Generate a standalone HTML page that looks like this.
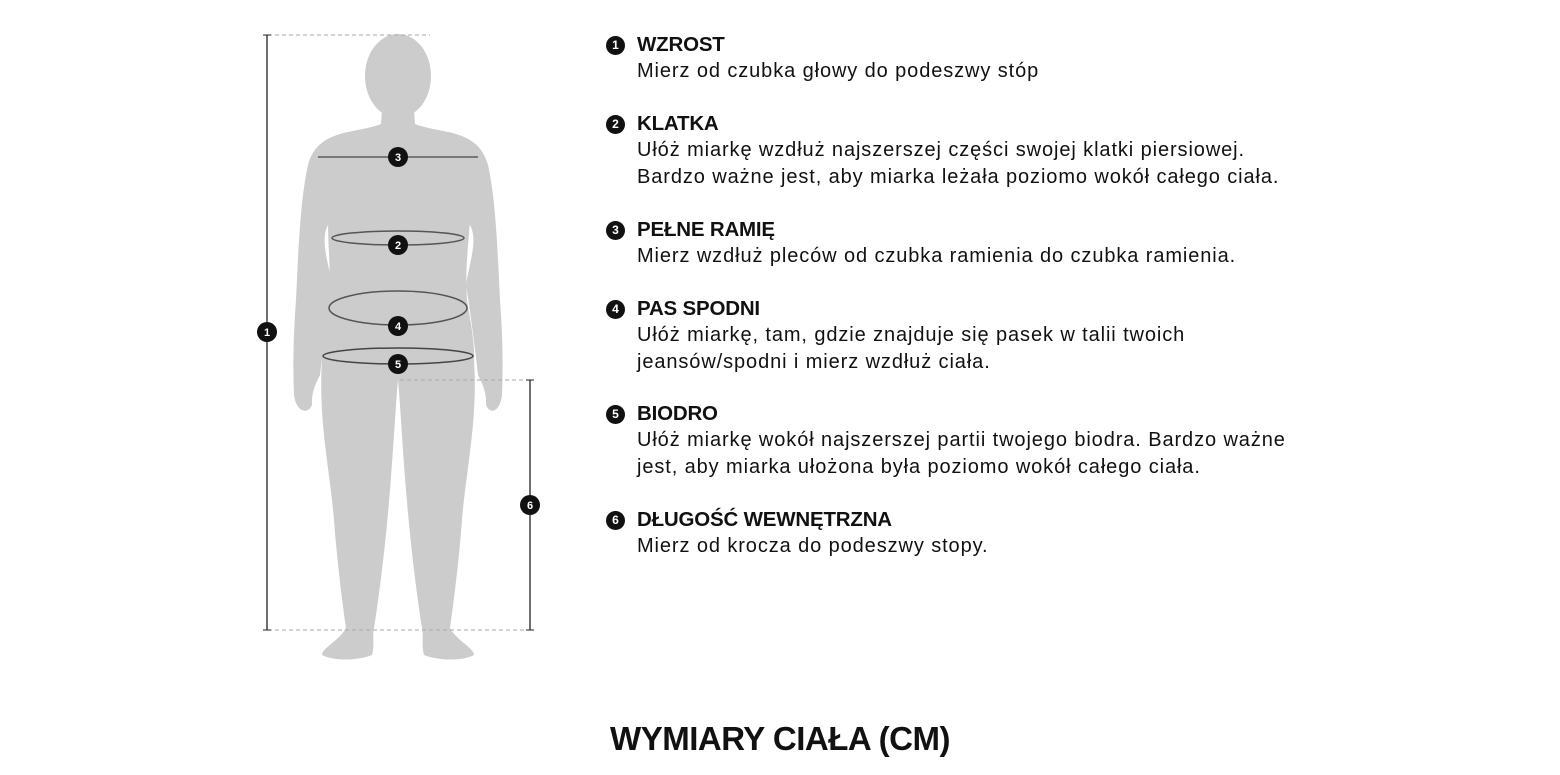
<!DOCTYPE html>
<html><head><meta charset="utf-8"><style>
body{margin:0;width:1560px;height:775px;background:#fff;position:relative;overflow:hidden;font-family:"Liberation Sans",sans-serif;color:#111}
.it{position:absolute;left:606px}
.n{position:absolute;left:0;top:3px;width:19px;height:19px;border-radius:50%;background:#111;color:#fff;font-size:12px;font-weight:bold;text-align:center;line-height:19px}
.h{position:absolute;left:31px;top:0;font-weight:bold;font-size:20.5px;white-space:nowrap;letter-spacing:-0.2px}
.t{position:absolute;left:31px;top:25px;font-size:20px;letter-spacing:0.9px;line-height:26.5px;white-space:nowrap}
.title{position:absolute;left:0;width:1560px;top:720px;text-align:center;font-weight:bold;font-size:33px;letter-spacing:-0.5px}
</style></head><body>
<svg width="1560" height="775" style="position:absolute;left:0;top:0">
<g fill="#cccccc">
<ellipse cx="398" cy="76" rx="33" ry="42"/>
<path d="M382 110 L414 110 L415 124 C440 134 478 128 488 165 C496 200 498 260 500 300 C503 340 503 370 502 395 C500 412 490 415 486 405 C487 390 480 380 478 375 C474 340 470 310 466 285 C470 260 478 240 470 225 L328 225 C320 240 328 260 332 285 C328 310 324 340 320 375 C318 380 311 390 312 405 C308 415 296 412 294 395 C293 370 293 340 296 300 C298 260 300 200 308 165 C318 128 356 134 381 124 Z"/>
<path d="M328 220 L470 220 C468 250 465 270 467 300 C472 330 475 345 474 365 L322 365 C321 345 324 330 329 300 C331 270 328 250 328 220 Z"/>
<path d="M322 360 C318 420 330 470 334 520 C337 560 342 600 346 628 C340 640 322 648 322 655 C336 662 360 660 372 655 C375 645 372 635 374 628 C380 590 386 540 390 490 C394 440 396 400 398 380 C400 400 402 440 406 490 C410 540 416 590 422 628 C424 635 421 645 424 655 C436 660 460 662 474 655 C474 648 456 640 450 628 C454 600 459 560 462 520 C466 470 478 420 474 360 Z"/>
</g>
<g fill="none">
<line x1="318" y1="157" x2="478" y2="157" stroke="#777" stroke-width="2"/>
<ellipse cx="398" cy="238" rx="66" ry="7" stroke="#555" stroke-width="1.5"/>
<ellipse cx="398" cy="308" rx="69" ry="17" stroke="#555" stroke-width="1.5"/>
<ellipse cx="398" cy="356" rx="75" ry="8" stroke="#444" stroke-width="1.5"/>
<line x1="268" y1="35" x2="430" y2="35" stroke="#aaa" stroke-dasharray="4 3"/>
<line x1="268" y1="630" x2="530" y2="630" stroke="#aaa" stroke-dasharray="4 3"/>
<line x1="400" y1="380" x2="530" y2="380" stroke="#aaa" stroke-dasharray="4 3"/>
<line x1="267" y1="35" x2="267" y2="630" stroke="#222" stroke-width="1.3"/>
<line x1="263" y1="35" x2="271" y2="35" stroke="#222"/><line x1="263" y1="630" x2="271" y2="630" stroke="#222"/>
<line x1="530" y1="380" x2="530" y2="630" stroke="#222" stroke-width="1.3"/>
<line x1="526" y1="380" x2="534" y2="380" stroke="#222"/><line x1="526" y1="630" x2="534" y2="630" stroke="#222"/>
</g>
<g font-family="Liberation Sans" font-weight="bold" font-size="11" fill="#fff" text-anchor="middle">
<circle cx="267" cy="332" r="10" fill="#111"/><text x="267" y="336">1</text>
<circle cx="398" cy="157" r="10" fill="#111"/><text x="398" y="161">3</text>
<circle cx="398" cy="245" r="10" fill="#111"/><text x="398" y="249">2</text>
<circle cx="398" cy="326" r="10" fill="#111"/><text x="398" y="330">4</text>
<circle cx="398" cy="364" r="10" fill="#111"/><text x="398" y="368">5</text>
<circle cx="530" cy="505" r="10" fill="#111"/><text x="530" y="509">6</text>
</g>
</svg>
<div class="it" style="top:33px"><div class="n">1</div><div class="h">WZROST</div><div class="t">Mierz od czubka głowy do podeszwy stóp</div></div>
<div class="it" style="top:112px"><div class="n">2</div><div class="h">KLATKA</div><div class="t">Ułóż miarkę wzdłuż najszerszej części swojej klatki piersiowej.<br>Bardzo ważne jest, aby miarka leżała poziomo wokół całego ciała.</div></div>
<div class="it" style="top:218px"><div class="n">3</div><div class="h">PEŁNE RAMIĘ</div><div class="t">Mierz wzdłuż pleców od czubka ramienia do czubka ramienia.</div></div>
<div class="it" style="top:297px"><div class="n">4</div><div class="h">PAS SPODNI</div><div class="t">Ułóż miarkę, tam, gdzie znajduje się pasek w talii twoich<br>jeansów/spodni i mierz wzdłuż ciała.</div></div>
<div class="it" style="top:402px"><div class="n">5</div><div class="h">BIODRO</div><div class="t">Ułóż miarkę wokół najszerszej partii twojego biodra. Bardzo ważne<br>jest, aby miarka ułożona była poziomo wokół całego ciała.</div></div>
<div class="it" style="top:508px"><div class="n">6</div><div class="h">DŁUGOŚĆ WEWNĘTRZNA</div><div class="t">Mierz od krocza do podeszwy stopy.</div></div>
<div class="title">WYMIARY CIAŁA (CM)</div>
</body></html>
